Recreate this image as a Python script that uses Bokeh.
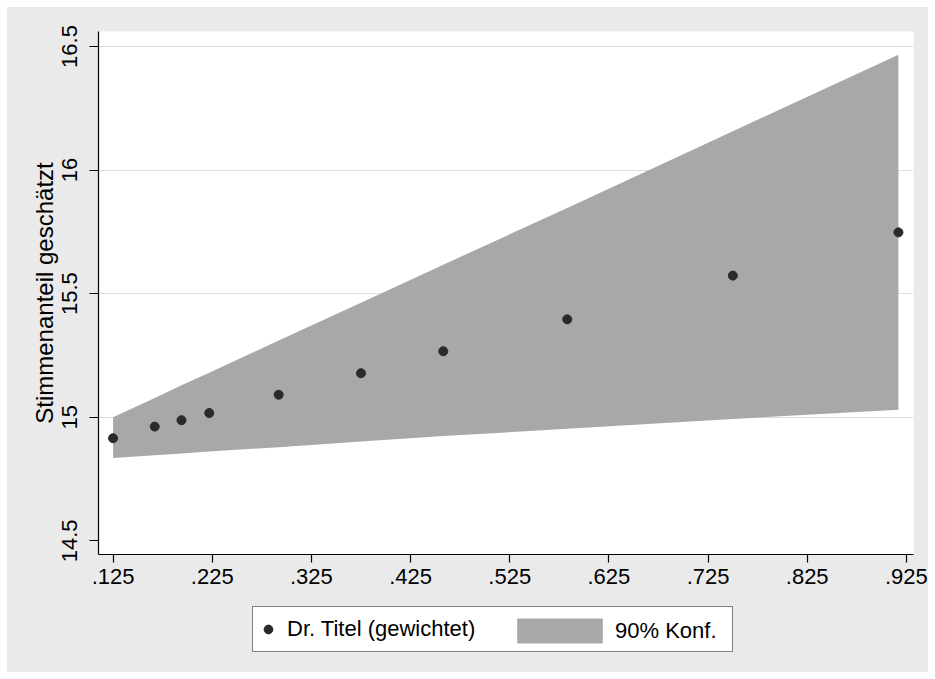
from bokeh.plotting import figure
from bokeh.models import Legend, LegendItem, FixedTicker, CustomJSTickFormatter, Spacer
from bokeh.layouts import column, row
from bokeh.embed import file_html
from bokeh.resources import INLINE

# data
x_vals = [0.125, 0.167, 0.194, 0.222, 0.292, 0.375, 0.458, 0.583, 0.750, 0.917]
y_est = [14.915, 14.962, 14.988, 15.017, 15.091, 15.178, 15.267, 15.396, 15.573, 15.748]
ci_upper = [15.000, 15.078, 15.129, 15.180, 15.310, 15.463, 15.617, 15.847, 16.157, 16.467]
ci_lower = [14.835, 14.846, 14.853, 14.861, 14.879, 14.902, 14.924, 14.953, 14.993, 15.030]
x_ticks = [0.125, 0.225, 0.325, 0.425, 0.525, 0.625, 0.725, 0.825, 0.925]
y_ticks = [14.5, 15.0, 15.5, 16.0, 16.5]
grid_ticks = [15.0, 15.5, 16.0, 16.5]
series_label = "Dr. Titel (gewichtet)"
band_label = "90% Konf."
y_title = "Stimmenanteil geschätzt"

FONT = "Liberation Sans"
BG = "#EAEAEA"
BAND = "#A8A8A8"
DOT = "#2A2A2A"

p = figure(width=921, height=595,
           x_range=(0.1103, 0.9322), y_range=(14.4446, 16.5607),
           output_backend="svg", toolbar_location=None,
           min_border_left=91, min_border_right=15,
           min_border_top=24, min_border_bottom=48)
p.background_fill_color = "white"
p.border_fill_color = BG
p.outline_line_color = None

band = p.varea(x=x_vals, y1=ci_lower, y2=ci_upper, fill_color=BAND)
dots = p.scatter(x=x_vals, y=y_est, size=9, fill_color=DOT, line_color=DOT)

# axes
p.xaxis.ticker = FixedTicker(ticks=x_ticks)
p.xaxis.formatter = CustomJSTickFormatter(code="return tick.toFixed(3).replace(/^0/, '');")
p.yaxis.ticker = FixedTicker(ticks=y_ticks)
p.yaxis.formatter = CustomJSTickFormatter(code="return String(Math.round(tick*10)/10);")
p.yaxis.major_label_orientation = "vertical"
p.yaxis.axis_label = y_title
p.yaxis.axis_label_text_font = FONT
p.yaxis.axis_label_text_font_size = "24px"
p.yaxis.axis_label_text_font_style = "normal"
p.yaxis.axis_label_text_color = "black"
p.yaxis.axis_label_standoff = 2
for ax in (p.xaxis, p.yaxis):
    ax.major_label_text_font = FONT
    ax.major_label_text_font_size = "22px"
    ax.major_label_text_color = "black"
    ax.axis_line_color = "black"
    ax.axis_line_width = 1.2
    ax.major_tick_line_color = "black"
    ax.major_tick_line_width = 1.2
    ax.major_tick_in = 0
    ax.minor_tick_line_color = None
p.xaxis.major_tick_out = 8
p.xaxis.major_label_standoff = 6
p.yaxis.major_tick_out = 9
p.yaxis.major_label_standoff = 12

p.xgrid.visible = False
p.ygrid.ticker = FixedTicker(ticks=grid_ticks)
p.ygrid.grid_line_color = "#DEDEDE"
p.ygrid.grid_line_width = 1

# legend strip below the chart (its frame is aligned with the chart's frame)
lg = figure(width=921, height=70, output_backend="svg", toolbar_location=None,
            x_range=(0, 1), y_range=(0, 1),
            x_axis_type=None, y_axis_type=None, min_border=0)
lg.background_fill_color = BG
lg.border_fill_color = BG
lg.outline_line_color = None
lg.xgrid.visible = False
lg.ygrid.visible = False
# same series as the chart; they fall outside this strip's ranges, only their legend glyphs show
lg_dot = lg.scatter(x=x_vals, y=y_est, size=9, fill_color=DOT, line_color=DOT)
lg_band = lg.varea(x=x_vals, y1=ci_lower, y2=ci_upper, fill_color=BAND)

leg1 = Legend(items=[LegendItem(label=series_label, renderers=[lg_dot])],
              location=(154, 20), orientation="horizontal",
              padding=4, margin=0, spacing=0,
              glyph_width=22, glyph_height=36, label_height=36,
              label_width=441, label_standoff=8,
              border_line_color="black", border_line_width=1.2,
              background_fill_color="white", background_fill_alpha=1,
              label_text_font=FONT, label_text_font_size="22px",
              label_text_color="black")
leg2 = Legend(items=[LegendItem(label=band_label, renderers=[lg_band])],
              location=(408, 26), orientation="horizontal",
              padding=0, margin=0, spacing=0,
              glyph_width=107, glyph_height=31, label_height=31,
              label_standoff=2,
              border_line_alpha=0, background_fill_alpha=0,
              label_text_font=FONT, label_text_font_size="22px",
              label_text_color="black")
lg.add_layout(leg1)
lg.add_layout(leg2)

chart = column(p, lg, spacing=0, styles={"background-color": BG})
layout = row(Spacer(width=7), column(Spacer(height=7), chart, spacing=0), spacing=0)

open("out.html", "w").write(file_html(layout, INLINE))
